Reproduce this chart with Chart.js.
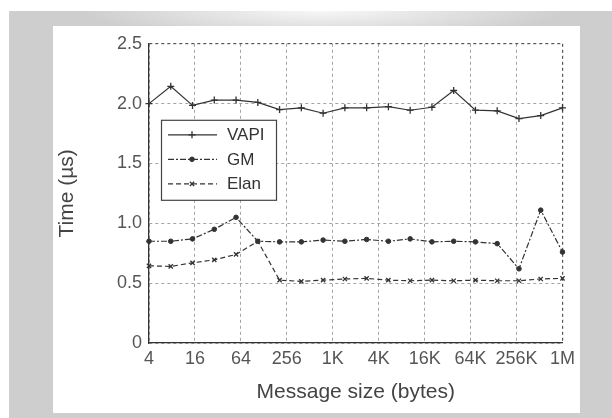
<!DOCTYPE html>
<html><head><meta charset="utf-8">
<script src="https://cdn.jsdelivr.net/npm/chart.js@4.4.1/dist/chart.umd.min.js"></script>
<style>
html,body{margin:0;padding:0;background:#fff;}
body{width:612px;height:418px;position:relative;overflow:hidden;}
#frame{position:absolute;left:9px;top:11px;width:603px;height:407px;
  background:radial-gradient(ellipse 240px 28px at 52% 0px,#f7f7f7 0%,rgba(247,247,247,0) 100%),#cecece;}
#panel{position:absolute;left:53px;top:26px;width:527px;height:387px;background:#fff;}
canvas{display:block;}
</style></head><body>
<div id="frame"></div>
<div id="panel"><canvas id="c" width="527" height="387"></canvas></div>
<script>
// sample number along the x axis (20 evenly spaced measurements)
const sampleIndex = ['1','2','3','4','5','6','7','8','9','10','11','12','13','14','15','16','17','18','19','20'];
const xTickLabels = ['4','16','64','256','1K','4K','16K','64K','256K','1M'];
const yTickLabels = ['0','0.5','1.0','1.5','2.0','2.5'];
const seriesNames = ['VAPI','GM','Elan'];
const vapi = [2.00, 2.145, 1.985, 2.03, 2.03, 2.01, 1.95, 1.965, 1.92, 1.965, 1.965, 1.975, 1.945, 1.97, 2.11, 1.945, 1.94, 1.875, 1.90, 1.965];
const gm   = [0.85, 0.85, 0.87, 0.95, 1.05, 0.85, 0.845, 0.845, 0.86, 0.85, 0.865, 0.85, 0.87, 0.845, 0.85, 0.845, 0.83, 0.62, 1.11, 0.76];
const elan = [0.645, 0.64, 0.67, 0.695, 0.74, 0.85, 0.525, 0.515, 0.525, 0.535, 0.54, 0.525, 0.52, 0.525, 0.52, 0.525, 0.52, 0.52, 0.535, 0.54];

const FONT = "'Liberation Sans', Arial, sans-serif";
const INK = '#333';

const boxLegend = {
  id: 'boxLegend',
  afterDraw(chart) {
    const {ctx, chartArea: a} = chart;
    const x = a.left + 12, y = a.top + 76, w = 115, h = 80;
    ctx.save();
    ctx.fillStyle = '#fff';
    ctx.fillRect(x, y, w, h);
    ctx.strokeStyle = '#444';
    ctx.lineWidth = 1.2;
    ctx.setLineDash([]);
    ctx.strokeRect(x + 0.5, y + 0.5, w, h);
    chart.data.datasets.forEach((ds, i) => {
      const cy = y + 15 + i * 24.5;
      ctx.strokeStyle = ds.borderColor;
      ctx.lineWidth = ds.borderWidth;
      ctx.setLineDash(ds.borderDash || []);
      ctx.beginPath();
      ctx.moveTo(x + 7, cy);
      ctx.lineTo(x + 56, cy);
      ctx.stroke();
      ctx.setLineDash([]);
      ctx.fillStyle = ds.pointBackgroundColor;
      ctx.strokeStyle = ds.pointBorderColor;
      ctx.lineWidth = ds.pointBorderWidth;
      Chart.helpers.drawPoint(ctx, {pointStyle: ds.pointStyle, radius: ds.pointRadius, borderWidth: ds.pointBorderWidth, rotation: 0}, x + 31, cy);
      ctx.fillStyle = '#333';
      ctx.font = "17px " + FONT;
      ctx.textBaseline = 'middle';
      ctx.textAlign = 'left';
      ctx.fillText(ds.label, x + 66, cy + 1);
    });
    ctx.restore();
  }
};

// grid lines: light dashed, the far (top / right) edge darker to act as the box frame
const gridFor = edgeValue => ({
  color: c => (c.tick && c.tick.value === edgeValue) ? '#555' : '#a3a3a3',
  lineWidth: c => (c.tick && c.tick.value === edgeValue) ? 1.2 : 1,
  drawTicks: false
});

new Chart(document.getElementById('c'), {
  type: 'line',
  data: {
    labels: sampleIndex,
    datasets: [
      {label: seriesNames[0], data: vapi, borderColor: INK, borderWidth: 1.2, pointStyle: 'cross',
       pointRadius: 3.5, pointBorderWidth: 1.3, pointBorderColor: INK, pointBackgroundColor: INK,
       tension: 0, fill: false, xAxisID: 'x', yAxisID: 'y'},
      {label: seriesNames[1], data: gm, borderColor: INK, borderWidth: 1.2, borderDash: [6, 2, 2, 2],
       pointStyle: 'circle', pointRadius: 2.3, pointBorderWidth: 1, pointBorderColor: INK, pointBackgroundColor: INK,
       tension: 0, fill: false, xAxisID: 'x', yAxisID: 'y'},
      {label: seriesNames[2], data: elan, borderColor: INK, borderWidth: 1.2, borderDash: [5, 3],
       pointStyle: 'crossRot', pointRadius: 3, pointBorderWidth: 1.3, pointBorderColor: INK, pointBackgroundColor: INK,
       tension: 0, fill: false, xAxisID: 'x', yAxisID: 'y'}
    ]
  },
  options: {
    responsive: false,
    devicePixelRatio: 1,
    animation: false,
    layout: {padding: 0},
    plugins: {legend: {display: false}, tooltip: {enabled: false}},
    scales: {
      x: {type: 'category', display: false, offset: false},
      xt: {
        type: 'linear', position: 'bottom', min: 0, max: xTickLabels.length - 1,
        afterFit: s => { s.height = 70; },
        ticks: {stepSize: 1, autoSkip: false, maxRotation: 0, padding: 5,
                color: '#555', font: {family: FONT, size: 18},
                callback: (v, i) => xTickLabels[i]},
        grid: gridFor(xTickLabels.length - 1),
        border: {display: true, color: '#333', width: 1.3, dash: [3, 3]},
        title: {display: true, text: 'Message size (bytes)', color: '#444',
                font: {family: FONT, size: 21}, padding: {top: 0, bottom: 8}}
      },
      xTop: {
        type: 'linear', position: 'top', min: 0, max: 1,
        afterFit: s => { s.height = 15; },
        ticks: {display: false},
        grid: {drawOnChartArea: false, drawTicks: false},
        border: {display: false}
      },
      y: {
        type: 'linear', position: 'left', min: 0, max: 2.5,
        afterFit: s => { s.width = 96; },
        ticks: {stepSize: 0.5, padding: 7, color: '#555', font: {family: FONT, size: 18},
                callback: (v, i) => yTickLabels[i]},
        grid: gridFor(2.5),
        border: {display: true, color: '#333', width: 1.3, dash: [3, 3]},
        title: {display: true, text: 'Time (µs)', color: '#444',
                font: {family: FONT, size: 21}, padding: {top: 2, bottom: 0}}
      },
      yRight: {
        type: 'linear', position: 'right', min: 0, max: 1,
        afterFit: s => { s.width = 16; },
        ticks: {display: false},
        grid: {drawOnChartArea: false, drawTicks: false},
        border: {display: false}
      }
    }
  },
  plugins: [boxLegend]
});
</script>
</body></html>
